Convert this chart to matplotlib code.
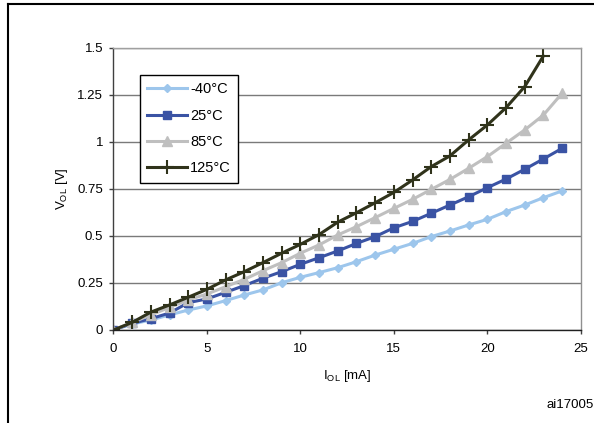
import numpy as np
import matplotlib
matplotlib.use("Agg")
import matplotlib.pyplot as plt
from matplotlib.lines import Line2D

plt.rcParams['font.family'] = ['Liberation Sans', 'DejaVu Sans']
plt.rcParams['mathtext.fontset'] = 'custom'
plt.rcParams['mathtext.rm'] = 'Liberation Sans'

# output current [mA]
i_ol = np.arange(0, 25)

# output low voltage [V] per temperature
v_m40 = [0.0, 0.032, 0.053, 0.08, 0.106, 0.128, 0.156, 0.186, 0.213, 0.251,
         0.28, 0.305, 0.331, 0.363, 0.398, 0.429, 0.46, 0.496, 0.526, 0.558,
         0.588, 0.629, 0.664, 0.703, 0.739]
v_25 = [0.0, 0.035, 0.06, 0.09, 0.145, 0.165, 0.2, 0.236, 0.275, 0.31,
        0.349, 0.384, 0.42, 0.46, 0.496, 0.543, 0.577, 0.62, 0.664, 0.708,
        0.756, 0.802, 0.854, 0.909, 0.965]
v_85 = [0.0, 0.04, 0.08, 0.12, 0.16, 0.191, 0.23, 0.269, 0.315, 0.358,
        0.408, 0.452, 0.505, 0.549, 0.597, 0.646, 0.694, 0.747, 0.80, 0.859,
        0.921, 0.992, 1.063, 1.142, 1.258]
v_125 = [0.0, 0.04, 0.095, 0.133, 0.174, 0.216, 0.266, 0.31, 0.358, 0.408,
         0.455, 0.507, 0.573, 0.623, 0.676, 0.731, 0.797, 0.868, 0.925, 1.01,
         1.089, 1.181, 1.293, 1.456]

labels = ['-40°C', '25°C', '85°C', '125°C']
colors = ['#9DC6EC', '#3A53A4', '#BFBFBF', '#30331B']

fig = plt.figure(figsize=(5.94, 4.23), dpi=100)
ax = fig.add_axes([0.191, 0.2199, 0.7867, 0.6673])

ax.plot(i_ol, v_m40, color=colors[0], lw=2.2, marker='D', ms=4.5,
        mec=colors[0], label=labels[0])
ax.plot(i_ol, v_25, color=colors[1], lw=2.2, marker='s', ms=5.5,
        mec=colors[1], label=labels[1])
ax.plot(i_ol, v_85, color=colors[2], lw=2.2, marker='^', ms=7,
        mec=colors[2], label=labels[2])
ax.plot(i_ol[:len(v_125)], v_125, color=colors[3], lw=2.2, marker='+',
        ms=10, mew=1.5, label=labels[3])

ax.set_xlim(0, 25)
ax.set_ylim(0, 1.5)
ax.set_xticks([0, 5, 10, 15, 20, 25])
ax.set_yticks([0, 0.25, 0.5, 0.75, 1, 1.25, 1.5])
ax.set_yticklabels(['0', '0.25', '0.5', '0.75', '1', '1.25', '1.5'])
ax.tick_params(labelsize=9.5, length=3, width=1, color='#404040')
ax.tick_params(axis='x', pad=6.5)
ax.tick_params(axis='y', pad=4.5)

ax.yaxis.grid(True, color='#7a7a7a', lw=1)
ax.set_axisbelow(True)
ax.spines['top'].set_color('#a0a0a0')
ax.spines['right'].set_color('#909090')
ax.spines['left'].set_color('#404040')
ax.spines['bottom'].set_color('#202020')
for s in ax.spines.values():
    s.set_linewidth(1)

ax.set_xlabel(r'I$_{\mathregular{OL}}$ [mA]', fontsize=9.5, labelpad=9)
ax.set_ylabel(r'V$_{\mathregular{OL}}$ [V]', fontsize=9.5, labelpad=5)

leg = ax.legend(loc='upper left', bbox_to_anchor=(0.2357, 0.8227),
                bbox_transform=fig.transFigure, borderaxespad=0,
                fontsize=10.5, handlelength=2.7, handletextpad=0.25,
                labelspacing=0.85, borderpad=0.5, fancybox=False,
                framealpha=1, edgecolor='black')
leg.get_frame().set_linewidth(1)

# outer frame around the figure
fig.add_artist(Line2D([7.5 / 594, 7.5 / 594], [0, 1 - 4 / 423],
                      transform=fig.transFigure, color='black', lw=1.5))
fig.add_artist(Line2D([7.5 / 594, 1], [1 - 4 / 423, 1 - 4 / 423],
                      transform=fig.transFigure, color='black', lw=1.5))

fig.text(594 / 594, 1 - 405 / 423, 'ai17005', ha='right', va='center',
         fontsize=9.5)

plt.savefig('out.png', dpi=100)
plt.close()
